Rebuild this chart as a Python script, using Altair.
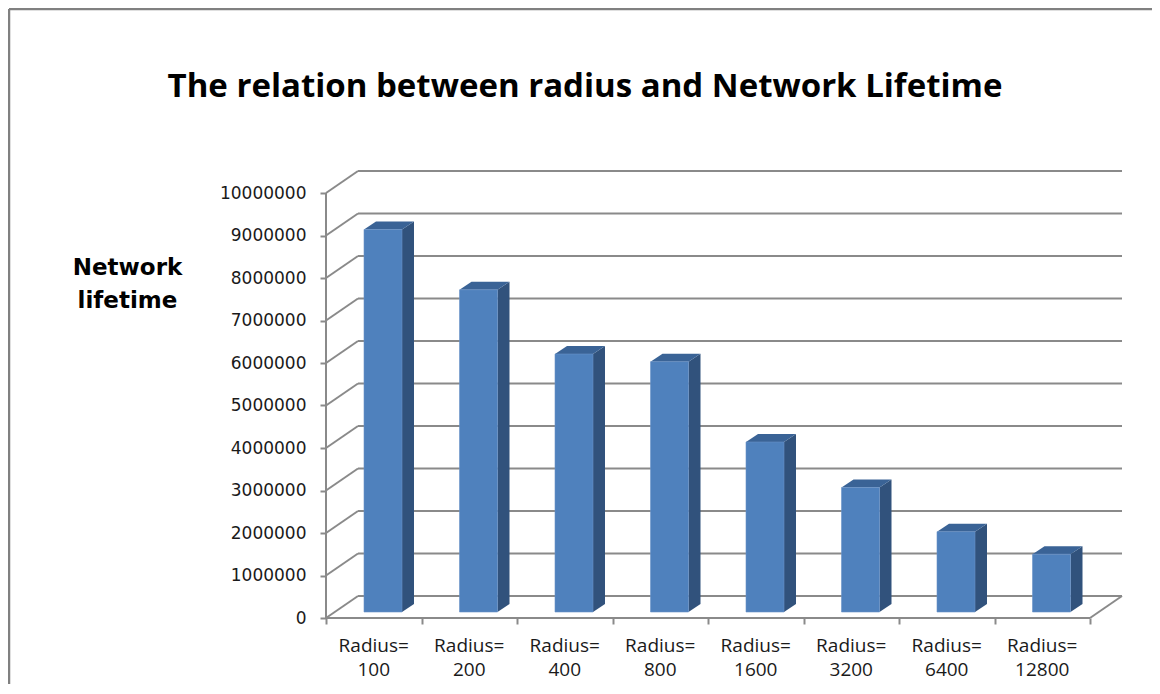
import altair as alt
import pandas as pd

# ---- data ----
radii = [100, 200, 400, 800, 1600, 3200, 6400, 12800]
lifetime = [9000000, 7580000, 6070000, 5890000, 4000000, 2930000, 1890000, 1360000]
y_ticks = list(range(0, 10000001, 1000000))
title_text = "The relation between radius and Network Lifetime"
y_title = ["Network", "lifetime"]

# ---- layout (pixels) ----
PX_CAT = 95.5          # pixels per category
PX_UNIT = 42.5 / 1e6   # pixels per value unit
W, H = 797, 447
UX = 1.0 / PX_CAT
UY = 1.0 / PX_UNIT
DX, DY = 32 * UX, 22 * UY          # depth of the 3D box
n = len(radii)
x_lo = -0.5
x_hi = x_lo + W * UX
y_hi = H * UY

# bar geometry (pixel offsets converted to scale units)
F_L, F_R = -9.75 * UX, 28.25 * UX
B0 = 6 * UY
BDX, BDY = 12 * UX, 8 * UY

xs = alt.Scale(domain=[x_lo, x_hi], nice=False, zero=False)
ys = alt.Scale(domain=[0, y_hi], nice=False, zero=False)
GRID = "#8a8a8a"

# gridlines (side wall diagonal + back wall)
grid_rows = []
for v in y_ticks:
    grid_rows.append(dict(x=x_lo, x2=x_lo + DX, y=v, y2=v + DY))
    grid_rows.append(dict(x=x_lo + DX, x2=n - 0.5 + DX, y=v + DY, y2=v + DY))
grid_rows.append(dict(x=n - 0.5, x2=n - 0.5 + DX, y=0, y2=DY))
grid_rows.append(dict(x=x_lo, x2=n - 0.5, y=0, y2=0))          # front x axis line
grid_rows.append(dict(x=x_lo, x2=x_lo, y=0, y2=y_ticks[-1]))   # front y axis line
grid_df = pd.DataFrame(grid_rows)

front_df = pd.DataFrame([
    dict(i=i, x=i + F_L, x2=i + F_R, y=B0, y2=v + B0) for i, v in enumerate(lifetime)
])
side_rows, top_rows = [], []
for i, v in enumerate(lifetime):
    side_rows.append(dict(i=i, x=i + F_R, lo=B0, hi=v + B0))
    side_rows.append(dict(i=i, x=i + F_R + BDX, lo=B0 + BDY, hi=v + B0 + BDY))
    top_rows.append(dict(i=i, y=v + B0, xl=i + F_L, xr=i + F_R))
    top_rows.append(dict(i=i, y=v + B0 + BDY, xl=i + F_L + BDX, xr=i + F_R + BDX))
side_df = pd.DataFrame(side_rows)
top_df = pd.DataFrame(top_rows)

label_df = pd.DataFrame([dict(x=i, y=0, label=f"Radius=\n{r}") for i, r in enumerate(radii)])

axis_df = pd.DataFrame([dict(x=x_lo, y=0)])
title_df = pd.DataFrame([dict(t=title_text)])

base_axes = alt.Chart(axis_df).mark_point(opacity=0).encode(
    x=alt.X("x:Q", scale=xs,
            axis=alt.Axis(values=[k - 0.5 for k in range(n + 1)], labels=False, domain=False,
                          grid=False, ticks=True, tickSize=6, tickColor=GRID, tickWidth=2,
                          title=None)),
    y=alt.Y("y:Q", scale=ys,
            axis=alt.Axis(values=y_ticks, format="d", domain=False, grid=False,
                          tickSize=6, tickColor=GRID, tickWidth=2, labelPadding=14,
                          labelFont="DejaVu Sans", labelFontSize=17, labelColor="#1a1a1a",
                          title=y_title, titleAngle=0, titleX=-199, titleY=85,
                          titleAlign="center", titleBaseline="top", titleLineHeight=33,
                          titleFont="DejaVu Sans", titleFontSize=23, titleFontWeight="bold",
                          titleColor="#000000")),
)

grid = alt.Chart(grid_df).mark_rule(color=GRID, strokeWidth=2).encode(
    x=alt.X("x:Q", scale=xs), x2="x2:Q", y=alt.Y("y:Q", scale=ys), y2="y2:Q"
)

front = alt.Chart(front_df).mark_rect(color="#4F81BD", stroke="#6A92C8", strokeWidth=0.6).encode(
    x=alt.X("x:Q", scale=xs), x2="x2:Q", y=alt.Y("y:Q", scale=ys), y2="y2:Q"
)
side = alt.Chart(side_df).mark_area(color="#31527C", orient="vertical").encode(
    x=alt.X("x:Q", scale=xs), y=alt.Y("hi:Q", scale=ys), y2="lo:Q", detail="i:N"
)
top = alt.Chart(top_df).mark_area(color="#3A6396", orient="horizontal").encode(
    y=alt.Y("y:Q", scale=ys), x=alt.X("xl:Q", scale=xs), x2="xr:Q", detail="i:N"
)

labels = alt.Chart(label_df).mark_text(
    font="Open Sans", fontSize=19, color="#1a1a1a", baseline="top", align="center",
    lineBreak="\n", lineHeight=24, dy=19
).encode(x=alt.X("x:Q", scale=xs), y=alt.Y("y:Q", scale=ys), text="label:N")

title = alt.Chart(title_df).mark_text(
    font="Open Sans", fontSize=33, fontWeight="bold", color="#000000",
    align="center", baseline="alphabetic"
).encode(x=alt.value(259), y=alt.value(-74), text="t:N")

frame_top = alt.Chart(axis_df).mark_rule(color="#808080", strokeWidth=2.5).encode(
    x=alt.value(-317), x2=alt.value(900), y=alt.value(-162), y2=alt.value(-162)
)
frame_left = alt.Chart(axis_df).mark_rule(color="#808080", strokeWidth=2.5).encode(
    x=alt.value(-317), x2=alt.value(-317), y=alt.value(-162), y2=alt.value(600)
)

chart = alt.layer(frame_top, frame_left, title, base_axes, grid, side, top, front, labels).properties(
    width=W, height=H,
    background="white",
    autosize=alt.AutoSizeParams(type="none"),
    padding={"left": 318, "top": 163, "right": 29, "bottom": 66},
).configure_view(strokeWidth=0, stroke="transparent")

chart.save("out.html", embed_options={"renderer": "svg", "actions": False})
